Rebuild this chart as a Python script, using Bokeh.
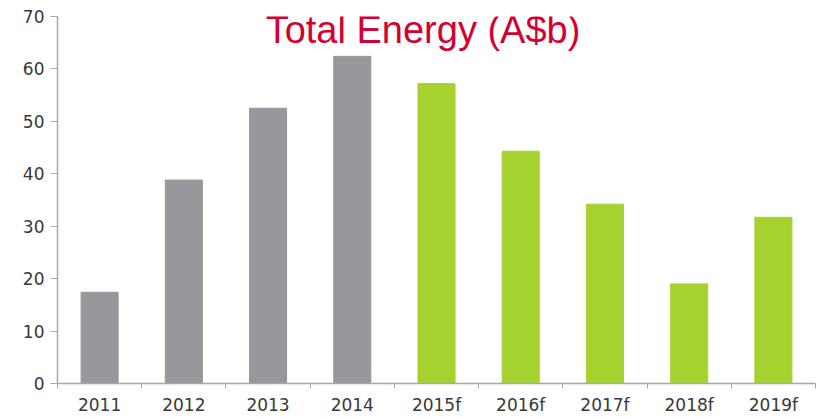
from bokeh.plotting import figure
from bokeh.models import ColumnDataSource, Range1d, FixedTicker, Label
from bokeh.embed import file_html
from bokeh.resources import INLINE

# ---- data ----
years = ["2011", "2012", "2013", "2014", "2015f", "2016f", "2017f", "2018f", "2019f"]
total_energy = [17.4, 38.8, 52.5, 62.4, 57.2, 44.3, 34.2, 19.0, 31.7]
y_ticks = [0, 10, 20, 30, 40, 50, 60, 70]
title_text = "Total Energy (A$b)"

ACTUAL = "#98989c"
FORECAST = "#a6d22f"
TEXT = "#383838"
AXIS = "#a8a8a8"

n = len(years)
centers = [i + 0.5 for i in range(n)]
colors = [FORECAST if y.endswith("f") else ACTUAL for y in years]
src = ColumnDataSource(dict(x=centers, top=total_energy, color=colors))

p = figure(width=821, height=417, output_backend="svg", toolbar_location=None,
           x_range=Range1d(0, n), y_range=Range1d(y_ticks[0], y_ticks[-1]),
           min_border_left=57, min_border_right=6, min_border_top=16, min_border_bottom=30)
p.outline_line_color = None
p.xgrid.visible = False
p.ygrid.visible = False
p.background_fill_color = "white"
p.border_fill_color = "white"

p.vbar(x="x", top="top", bottom=0, width=0.44, color="color", source=src)

# x axis: labels at centers, tick marks at category boundaries
xa = p.xaxis[0]
xa.ticker = FixedTicker(ticks=centers, minor_ticks=list(range(n + 1)))
xa.major_label_overrides = {c: y for c, y in zip(centers, years)}
xa.major_tick_out = 0
xa.major_tick_in = 0
xa.minor_tick_out = 5
xa.minor_tick_in = 0
xa.minor_tick_line_color = AXIS
xa.axis_line_color = AXIS
xa.axis_line_width = 1.5
xa.major_label_standoff = 6
xa.major_label_text_font = "DejaVu Sans"
xa.major_label_text_font_size = "17px"
xa.major_label_text_color = TEXT

ya = p.yaxis[0]
ya.ticker = FixedTicker(ticks=y_ticks, minor_ticks=[])
ya.major_tick_out = 7
ya.major_tick_in = 0
ya.minor_tick_out = 0
ya.minor_tick_in = 0
ya.major_tick_line_color = AXIS
ya.axis_line_color = AXIS
ya.axis_line_width = 1.5
ya.major_label_standoff = 6
ya.major_label_text_font = "DejaVu Sans"
ya.major_label_text_font_size = "17px"
ya.major_label_text_color = TEXT

title = Label(x=4.34, y=67.4, text=title_text, text_align="center",
              text_baseline="alphabetic", text_font="Liberation Sans",
              text_font_size="38px", text_color="#d50032")
p.add_layout(title)

open("out.html", "w").write(file_html(p, INLINE))
